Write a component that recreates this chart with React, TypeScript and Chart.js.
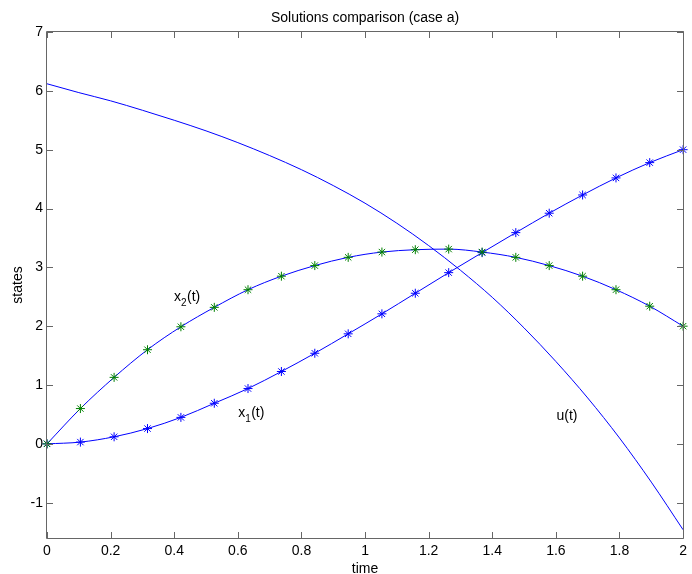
import React, { useEffect, useRef } from "react";
import { Chart, registerables } from "chart.js";

Chart.register(...registerables);

// ---- data ----
const markerTimes = [0, 0.105, 0.211, 0.316, 0.421, 0.526, 0.632, 0.737, 0.842, 0.947, 1.053, 1.158, 1.263, 1.368, 1.474, 1.579, 1.684, 1.789, 1.895, 2];
const x1Values = [0, 0.03, 0.12, 0.26, 0.45, 0.69, 0.94, 1.23, 1.54, 1.87, 2.21, 2.56, 2.91, 3.25, 3.59, 3.92, 4.23, 4.52, 4.78, 5.0];
const x2Values = [0, 0.6, 1.13, 1.6, 1.99, 2.32, 2.62, 2.85, 3.03, 3.17, 3.26, 3.3, 3.31, 3.26, 3.17, 3.03, 2.85, 2.62, 2.34, 2.0];
const uTimes = [0, 0.1, 0.2, 0.3, 0.4, 0.5, 0.6, 0.7, 0.8, 0.9, 1.0, 1.1, 1.2, 1.3, 1.4, 1.5, 1.6, 1.7, 1.8, 1.9, 2.0];
const uValues = [6.12, 5.97, 5.83, 5.67, 5.5, 5.32, 5.12, 4.9, 4.66, 4.39, 4.09, 3.75, 3.37, 2.95, 2.49, 1.97, 1.4, 0.78, 0.1, -0.65, -1.46];

const xTickValues = [0, 0.2, 0.4, 0.6, 0.8, 1, 1.2, 1.4, 1.6, 1.8, 2];
const yTickValues = [-1, 0, 1, 2, 3, 4, 5, 6, 7];
const xRange = [0, 2];
const yRange = [-1.6, 7];

const chartTitle = "Solutions comparison (case a)";
const xAxisTitle = "time";
const yAxisTitle = "states";

// text annotations: base text, subscript, rest, anchor (t, value)
const annotationTexts = ["x", "x", "u(t)"];
const annotationSubs = ["2", "1", ""];
const annotationRests = ["(t)", "(t)", ""];
const annotationT = [0.399, 0.601, 1.602];
const annotationV = [2.42, 0.46, 0.41];

const BLUE = "#0000ff";
const GREEN = "#008000";
const FONT = "'Liberation Sans', Arial, Helvetica, sans-serif";

const decorPlugin = {
  id: "decor",
  afterDraw(chart: any) {
    const ctx = chart.ctx as CanvasRenderingContext2D;
    const { left, right, top, bottom } = chart.chartArea;
    const xs = chart.scales.x;
    const ys = chart.scales.y;
    ctx.save();
    // box
    ctx.strokeStyle = "#666";
    ctx.lineWidth = 1;
    const L = Math.round(left) - 0.5;
    const R = Math.round(right) + 0.5;
    const T = Math.round(top) - 0.5;
    const B = Math.round(bottom) + 0.5;
    ctx.beginPath();
    ctx.rect(L, T, R - L, B - T);
    ctx.stroke();
    const tl = 6.5;
    ctx.beginPath();
    xTickValues.forEach((v) => {
      const px = Math.round(xs.getPixelForValue(v)) + 0.5;
      ctx.moveTo(px, B);
      ctx.lineTo(px, B - tl);
      ctx.moveTo(px, T);
      ctx.lineTo(px, T + tl);
    });
    yTickValues.forEach((v) => {
      const py = Math.round(ys.getPixelForValue(v)) + 0.5;
      ctx.moveTo(L, py);
      ctx.lineTo(L + tl, py);
      ctx.moveTo(R, py);
      ctx.lineTo(R - tl, py);
    });
    ctx.stroke();

    ctx.fillStyle = "#000";
    ctx.font = `14px ${FONT}`;
    ctx.textAlign = "center";
    ctx.textBaseline = "alphabetic";
    ctx.fillText(chartTitle, (left + right) / 2, 21.5);
    ctx.fillText(xAxisTitle, (left + right) / 2, 572.5);

    ctx.save();
    ctx.translate(22, (top + bottom) / 2);
    ctx.rotate(-Math.PI / 2);
    ctx.fillText(yAxisTitle, 0, 0);
    ctx.restore();

    // annotations
    ctx.textAlign = "left";
    annotationTexts.forEach((txt, i) => {
      let x = xs.getPixelForValue(annotationT[i]);
      const y = ys.getPixelForValue(annotationV[i]);
      ctx.font = `14px ${FONT}`;
      ctx.fillText(txt, x, y);
      x += ctx.measureText(txt).width;
      if (annotationSubs[i]) {
        ctx.font = `10px ${FONT}`;
        ctx.fillText(annotationSubs[i], x, y + 5);
        x += ctx.measureText(annotationSubs[i]).width + 0.5;
      }
      if (annotationRests[i]) {
        ctx.font = `14px ${FONT}`;
        ctx.fillText(annotationRests[i], x, y);
      }
    });
    ctx.restore();
  },
};

export default function App() {
  const ref = useRef<HTMLCanvasElement | null>(null);
  useEffect(() => {
    if (!ref.current) return;
    const chart = new Chart(ref.current, {
      type: "line",
      data: {
        datasets: [
          {
            label: "u(t)",
            data: uTimes.map((t, i) => ({ x: t, y: uValues[i] })),
            borderColor: BLUE,
            borderWidth: 1,
            pointRadius: 0,
            cubicInterpolationMode: "monotone",
            fill: false,
          },
          {
            label: "x2(t)",
            data: markerTimes.map((t, i) => ({ x: t, y: x2Values[i] })),
            borderColor: BLUE,
            borderWidth: 1,
            pointStyle: "star",
            pointRadius: 4.5,
            pointBorderColor: GREEN,
            pointBackgroundColor: GREEN,
            pointBorderWidth: 1,
            cubicInterpolationMode: "monotone",
            fill: false,
          },
          {
            label: "x1(t)",
            data: markerTimes.map((t, i) => ({ x: t, y: x1Values[i] })),
            borderColor: BLUE,
            borderWidth: 1,
            pointStyle: "star",
            pointRadius: 4.5,
            pointBorderColor: BLUE,
            pointBackgroundColor: BLUE,
            pointBorderWidth: 1,
            cubicInterpolationMode: "monotone",
            fill: false,
          },
        ],
      },
      options: {
        animation: false,
        responsive: false,
        devicePixelRatio: 1,
        clip: false,
        layout: { padding: { top: 32, right: 2, left: 0, bottom: 0 } },
        plugins: {
          legend: { display: false },
          tooltip: { enabled: false },
          title: { display: false },
        },
        scales: {
          x: {
            type: "linear",
            min: xRange[0],
            max: xRange[1],
            grid: { display: false, drawTicks: false },
            border: { display: false },
            afterBuildTicks: (s: any) => {
              s.ticks = xTickValues.map((v) => ({ value: v }));
            },
            afterFit: (s: any) => {
              s.height = 36;
            },
            ticks: {
              padding: 5,
              maxRotation: 0,
              autoSkip: false,
              color: "#000",
              font: { family: FONT, size: 14 },
              callback: (v: any) => String(Math.round(Number(v) * 10) / 10),
            },
          },
          y: {
            type: "linear",
            min: yRange[0],
            max: yRange[1],
            grid: { display: false, drawTicks: false },
            border: { display: false },
            afterBuildTicks: (s: any) => {
              s.ticks = yTickValues.map((v) => ({ value: v }));
            },
            afterFit: (s: any) => {
              s.width = 47;
            },
            ticks: {
              padding: 4,
              autoSkip: false,
              color: "#000",
              font: { family: FONT, size: 14 },
              callback: (v: any) => String(v),
            },
          },
        },
      },
      plugins: [decorPlugin],
    } as any);
    return () => chart.destroy();
  }, []);
  return (
    <div style={{ position: "fixed", left: 0, top: 0, width: 692, height: 574, background: "#fff" }}>
      <canvas ref={ref} width={692} height={574} style={{ display: "block", width: 692, height: 574 }} />
    </div>
  );
}
